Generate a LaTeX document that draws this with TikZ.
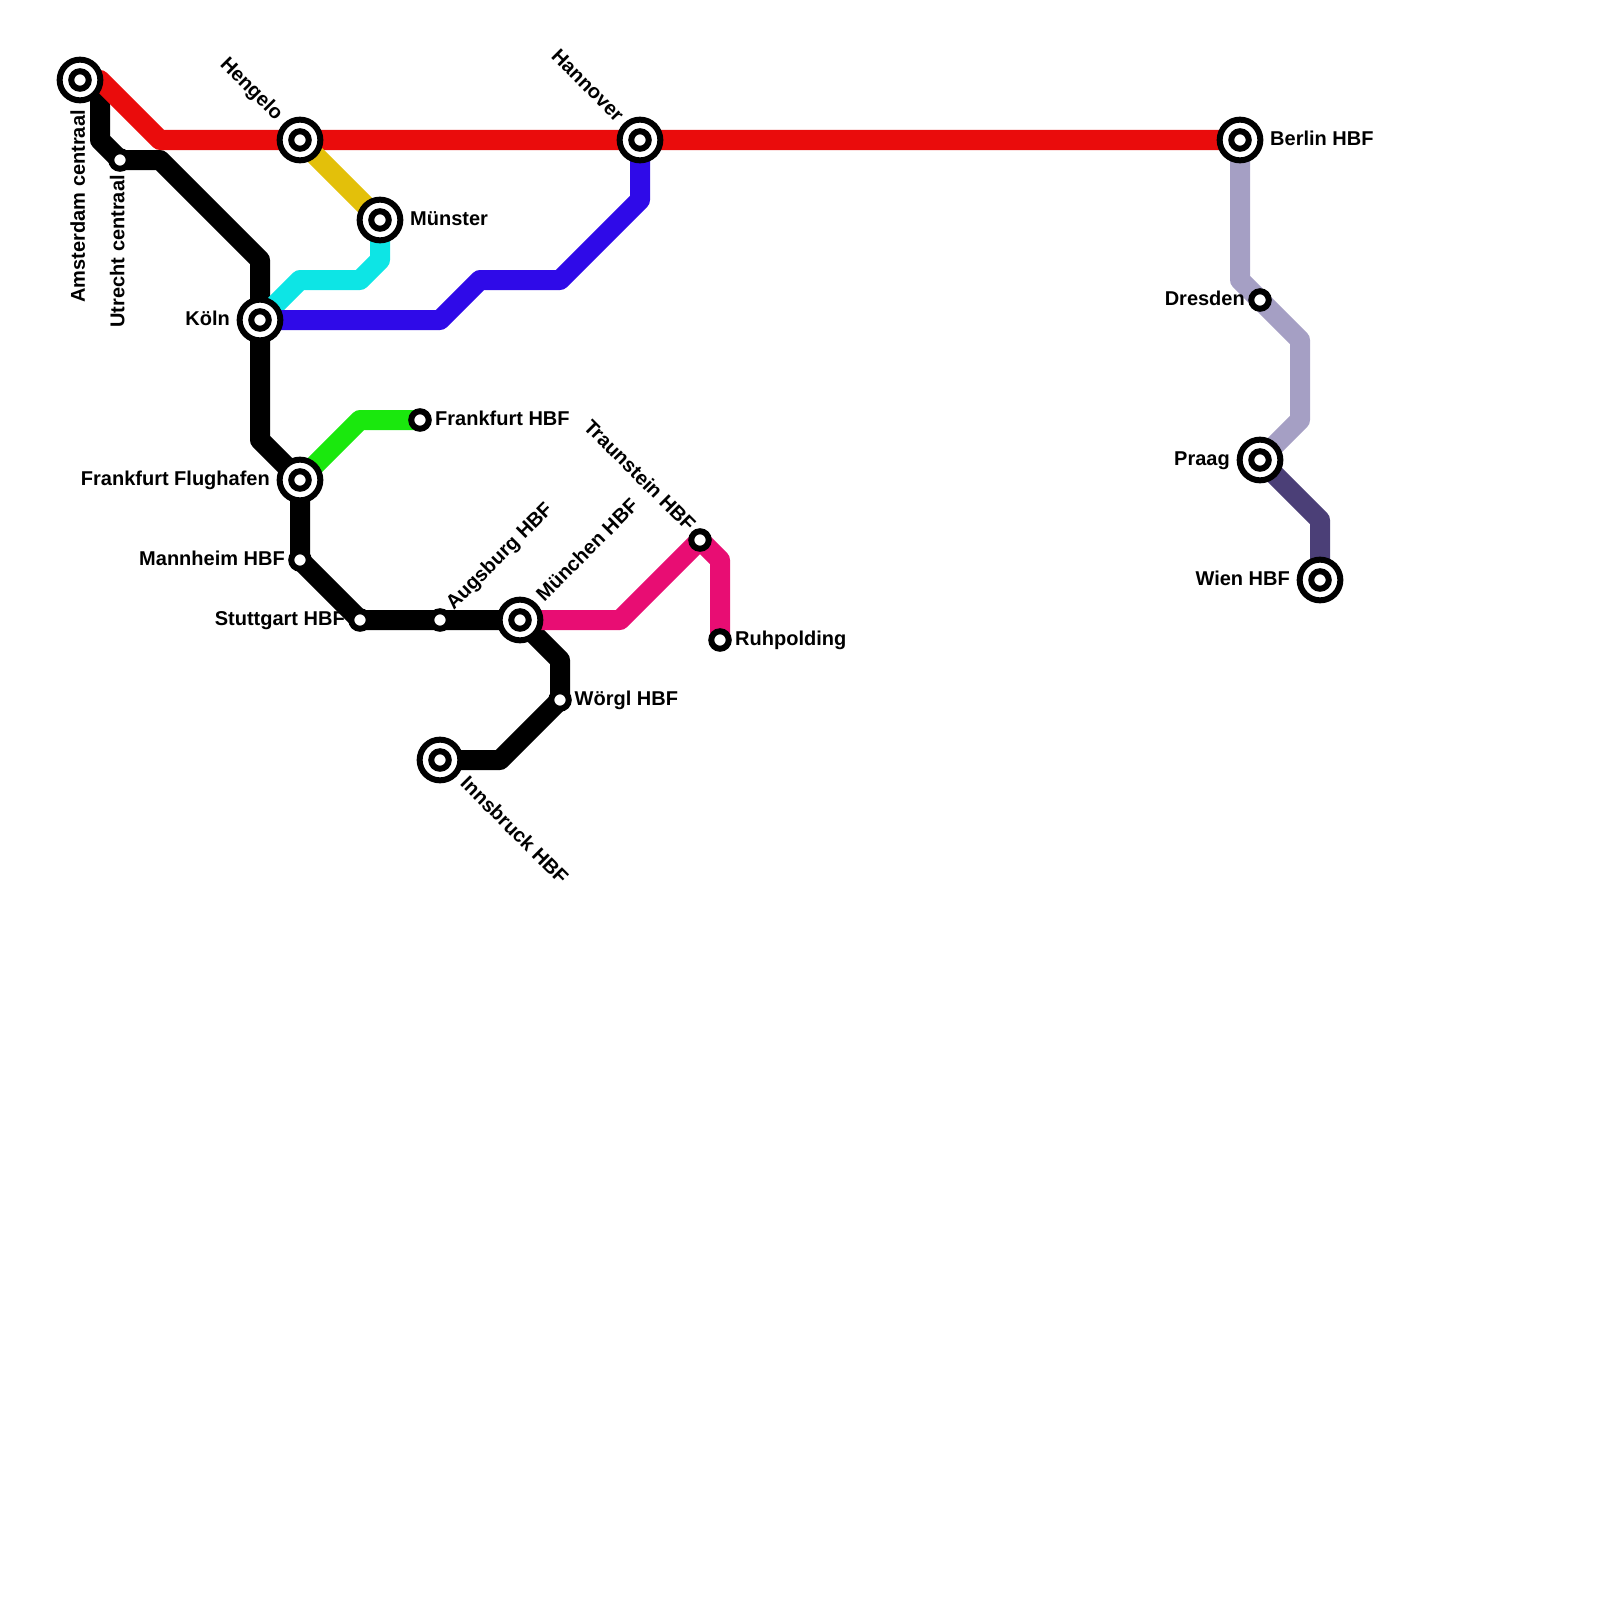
\documentclass[tikz,border=0pt]{standalone}
\usepackage{fontspec}
\setmainfont{Liberation Sans}
\usetikzlibrary{backgrounds}
\definecolor{redline}{HTML}{EA0C0C}
\definecolor{yellowline}{HTML}{E3C00A}
\definecolor{cyanline}{HTML}{0DE5E5}
\definecolor{blueline}{HTML}{2F0AE8}
\definecolor{greenline}{HTML}{1AE80D}
\definecolor{pinkline}{HTML}{E80D73}
\definecolor{lilacline}{HTML}{A59FC4}
\definecolor{darkline}{HTML}{4B3F77}
\tikzset{
  track/.style={line width=20pt, line join=round, line cap=round},
  terminus/.style={circle, draw=black, line width=6pt, fill=white, inner sep=0pt, minimum size=40.7pt,
    path picture={\draw[black, line width=6pt] (path picture bounding box.center) circle (8.75pt);}},
  halt/.style={circle, draw=black, line width=6pt, fill=white, inner sep=0pt, minimum size=17.5pt},
  stop/.style={inner sep=0pt, text height=14.5pt, text depth=4pt, font=\fontsize{20}{24}\selectfont\bfseries},
}
\begin{document}
\begin{tikzpicture}[x=1pt,y=-1pt]
\useasboundingbox (0,0) rectangle (1600,1600);
\node[terminus] (amsterdam) at (80,80) {};
\node[terminus] (hengelo) at (300,140) {};
\node[terminus] (hannover) at (640,140) {};
\node[terminus] (berlin) at (1240,140) {};
\node[terminus] (munster) at (380,220) {};
\node[terminus] (koln) at (260,320) {};
\node[terminus] (flughafen) at (300,480) {};
\node[terminus] (munchen) at (520,620) {};
\node[terminus] (innsbruck) at (440,760) {};
\node[terminus] (praag) at (1260,460) {};
\node[terminus] (wien) at (1320,580) {};
\node[halt] (utrecht) at (120,160) {};
\node[halt] (frankfurt) at (420,420) {};
\node[halt] (mannheim) at (300,560) {};
\node[halt] (stuttgart) at (360,620) {};
\node[halt] (augsburg) at (440,620) {};
\node[halt] (worgl) at (560,700) {};
\node[halt] (traunstein) at (700,540) {};
\node[halt] (ruhpolding) at (720,640) {};
\node[halt] (dresden) at (1260,300) {};
\coordinate (redstart) at (100,80);
\coordinate (redbend) at (160,140);
\coordinate (blackstart) at (100,100);
\coordinate (blacka) at (100,140);
\coordinate (blackb) at (160,160);
\coordinate (blackc) at (260,260);
\coordinate (blackd) at (260,440);
\coordinate (blacke) at (560,660);
\coordinate (blackf) at (500,760);
\coordinate (bluea) at (640,200);
\coordinate (blueb) at (560,280);
\coordinate (bluec) at (480,280);
\coordinate (blued) at (440,320);
\coordinate (cyana) at (380,260);
\coordinate (cyanb) at (360,280);
\coordinate (cyanc) at (300,280);
\coordinate (greena) at (360,420);
\coordinate (pinka) at (620,620);
\coordinate (pinkb) at (720,560);
\coordinate (lilaca) at (1240,280);
\coordinate (lilacb) at (1300,340);
\coordinate (lilacc) at (1300,420);
\coordinate (darka) at (1320,520);
\begin{pgfonlayer}{background}
\draw[track, black] (blackstart) -- (blacka) -- (utrecht.center) -- (blackb) -- (blackc) -- (koln.center) -- (blackd) -- (flughafen.center) -- (mannheim.center) -- (stuttgart.center) -- (augsburg.center) -- (munchen.center) -- (blacke) -- (worgl.center) -- (blackf) -- (innsbruck.center);
\draw[track, redline] (redstart) -- (redbend) -- (hengelo.center) -- (hannover.center) -- (berlin.center);
\draw[track, yellowline] (hengelo.center) -- (munster.center);
\draw[track, cyanline] (munster.center) -- (cyana) -- (cyanb) -- (cyanc) -- (koln.center);
\draw[track, blueline] (hannover.center) -- (bluea) -- (blueb) -- (bluec) -- (blued) -- (koln.center);
\draw[track, greenline] (flughafen.center) -- (greena) -- (frankfurt.center);
\draw[track, pinkline] (munchen.center) -- (pinka) -- (traunstein.center) -- (pinkb) -- (ruhpolding.center);
\draw[track, lilacline] (berlin.center) -- (lilaca) -- (dresden.center) -- (lilacb) -- (lilacc) -- (praag.center);
\draw[track, darkline] (praag.center) -- (darka) -- (wien.center);
\end{pgfonlayer}
\node[stop, anchor=east, rotate=90] (amsterdamlabel) at (79.5,110) {Amsterdam centraal};
\node[stop, anchor=east, rotate=90] (utrechtlabel) at (119,175) {Utrecht centraal};
\node[stop, anchor=east, rotate=-45] (hengelolabel) at (279,117.5) {Hengelo};
\node[stop, anchor=east, rotate=-45] (hannoverlabel) at (619.5,119) {Hannover};
\node[stop, anchor=west] (berlinlabel) at (1270,140) {Berlin HBF};
\node[stop, anchor=west] (munsterlabel) at (410,220) {Münster};
\node[stop, anchor=east] (kolnlabel) at (230,320) {Köln};
\node[stop, anchor=east] (flughafenlabel) at (270,480) {Frankfurt Flughafen};
\node[stop, anchor=west] (frankfurtlabel) at (435,420) {Frankfurt HBF};
\node[stop, anchor=east] (mannheimlabel) at (285,560) {Mannheim HBF};
\node[stop, anchor=east] (stuttgartlabel) at (345,620) {Stuttgart HBF};
\node[stop, anchor=west, rotate=45] (augsburglabel) at (450,607) {Augsburg HBF};
\node[stop, anchor=west, rotate=45] (munchenlabel) at (540.5,598.5) {München HBF};
\node[stop, anchor=east, rotate=-45] (traunsteinlabel) at (691,529) {Traunstein HBF};
\node[stop, anchor=west] (ruhpoldinglabel) at (735,640) {Ruhpolding};
\node[stop, anchor=west] (worgllabel) at (574.5,700) {Wörgl HBF};
\node[stop, anchor=west, rotate=-45] (innsbrucklabel) at (463,781) {Innsbruck HBF};
\node[stop, anchor=east] (dresdenlabel) at (1245,300) {Dresden};
\node[stop, anchor=east] (praaglabel) at (1230,460) {Praag};
\node[stop, anchor=east] (wienlabel) at (1290,580) {Wien HBF};
\end{tikzpicture}
\end{document}
